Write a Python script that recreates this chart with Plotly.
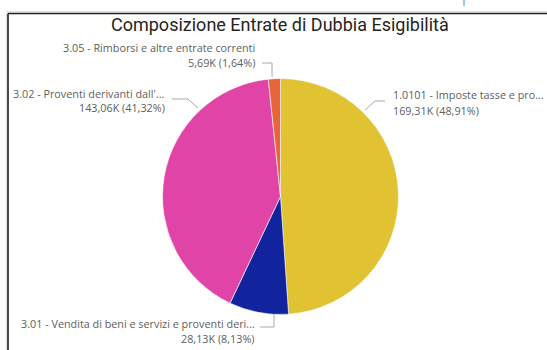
import plotly.graph_objects as go

W, H = 547, 350

# Entrate di dubbia esigibilità (migliaia di euro)
codes = ["1.0101", "3.01", "3.02", "3.05"]
names = [
    "Imposte tasse e pro...",
    "Vendita di beni e servizi e proventi deri...",
    "Proventi derivanti dall'...",
    "Rimborsi e altre entrate correnti",
]
values = [169.31, 28.13, 143.06, 5.69]
colors = ["#E1C233", "#12239E", "#E044A7", "#E8643A"]

total = sum(values)


def fmt_it(v, nd=2):
    return f"{v:.{nd}f}".replace(".", ",")


def px(x):
    return x / W


def py(y):
    return 1 - y / H


fig = go.Figure(
    go.Pie(
        labels=[f"{c} - {n}" for c, n in zip(codes, names)],
        values=values,
        sort=False,
        direction="clockwise",
        rotation=0,
        textinfo="none",
        hoverinfo="label+value+percent",
        marker=dict(colors=colors, line=dict(color="white", width=0.6)),
        domain=dict(x=[px(162.5), px(398.5)], y=[py(314.5), py(78.5)]),
        showlegend=False,
    )
)

# label placement: (anchor x, line-1 y, line-2 y, side)
label_pos = {
    "3.05": (257, 47, 62, "right"),
    "3.02": (167, 93, 108, "right"),
    "1.0101": (391, 95, 110, "left"),
    "3.01": (257, 323, 338, "right"),
}
# leader polylines next to each label
leaders = {
    "3.05": [(262, 63), (272, 63), (272, 77)],
    "3.02": [(172, 99), (188, 99), (198, 108)],
    "1.0101": [(385, 101), (375, 101), (365, 110)],
    "3.01": [(260, 327), (274, 327), (274, 314)],
}

lab_font = dict(family="Open Sans, Noto Sans, sans-serif", size=10.8, color="#605E5C")
annotations = []
shapes = []
for c, n, v in zip(codes, names, values):
    x, y1, y2, side = label_pos[c]
    anchor = "right" if side == "right" else "left"
    line1 = f"{c} - {n}"
    line2 = f"{fmt_it(v)}K ({fmt_it(v / total * 100)}%)"
    for txt, yy in ((line1, y1), (line2, y2)):
        annotations.append(
            dict(
                x=px(x), y=py(yy), xref="paper", yref="paper",
                text=txt, showarrow=False, xanchor=anchor, yanchor="middle",
                font=lab_font,
            )
        )
    pts = leaders[c]
    path = "M " + " L ".join(f"{px(a)},{py(b)}" for a, b in pts)
    shapes.append(
        dict(type="path", xref="paper", yref="paper", path=path,
             line=dict(color="#A8A8A8", width=1))
    )

# chart title
annotations.append(
    dict(
        x=px(280), y=py(25), xref="paper", yref="paper",
        text="Composizione Entrate di Dubbia Esigibilità",
        showarrow=False, xanchor="center", yanchor="middle",
        font=dict(family="Roboto, DejaVu Sans, sans-serif", size=18, color="#252423"),
    )
)

# card frame (top and left edges) with soft shadow
shapes += [
    dict(type="line", xref="paper", yref="paper", x0=px(6.5), x1=1.01, y0=py(11.5), y1=py(11.5),
         line=dict(color="#E2E2E2", width=1)),
    dict(type="line", xref="paper", yref="paper", x0=px(6.5), x1=px(6.5), y0=py(11.5), y1=-0.01,
         line=dict(color="#E2E2E2", width=1)),
    dict(type="line", xref="paper", yref="paper", x0=px(8), x1=1.01, y0=py(13.5), y1=py(13.5),
         line=dict(color="#1E1E1E", width=1.6)),
    dict(type="line", xref="paper", yref="paper", x0=px(8), x1=px(8), y0=py(13.5), y1=-0.01,
         line=dict(color="#1E1E1E", width=1.6)),
    dict(type="line", xref="paper", yref="paper", x0=px(464), x1=px(464), y0=1.01, y1=py(6),
         line=dict(color="#7FB6E0", width=1.5)),
]

fig.update_layout(
    width=W, height=H,
    margin=dict(l=0, r=0, t=0, b=0),
    paper_bgcolor="white", plot_bgcolor="white",
    annotations=annotations, shapes=shapes,
)

fig.write_html("out.html")
